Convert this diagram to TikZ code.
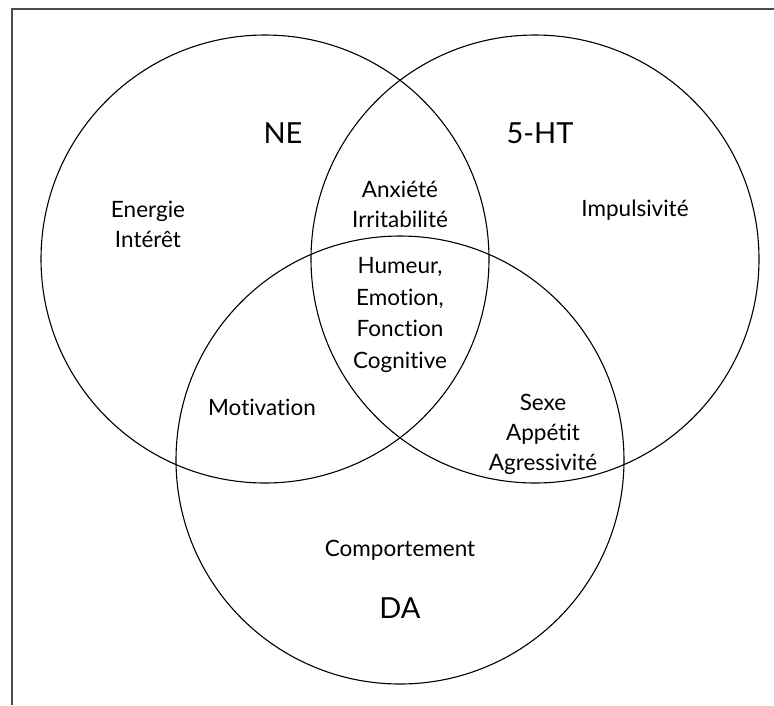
\documentclass[tikz,border=0pt]{standalone}
\usepackage{fontspec}
\setmainfont[Ligatures={NoCommon,NoRare,NoContextual}]{Lato}
\begin{document}
\begin{tikzpicture}[x=1pt,y=-1pt,
  ring/.style={draw=black,line width=1.1pt},
  frame/.style={draw=black!70,line width=2pt},
  lbl/.style={font=\fontsize{22.5}{30}\selectfont,align=center,inner sep=0pt},
  big/.style={font=\fontsize{29}{30}\selectfont,inner sep=0pt}]
\useasboundingbox (0,0) rectangle (774,705);
\draw[frame] (12,705) -- (12,8.5) -- (774,8.5);
\draw[ring] (265,259) circle (224);
\draw[ring] (535,259) circle (224);
\draw[ring] (400,460) circle (224);
\node[big] (ne) at (283,133) {NE};
\node[big] (ht) at (540,133) {5-HT};
\node[big] (da) at (400,608) {DA};
\node[lbl] (en) at (148,224) {Energie\\Intérêt};
\node[lbl] (an) at (400,204) {Anxiété\\Irritabilité};
\node[lbl] (im) at (635,210) {Impulsivité};
\node[lbl,font=\fontsize{22.5}{31.5}\selectfont] (hu) at (400,315) {Humeur,\\Emotion,\\Fonction\\Cognitive};
\node[lbl] (mo) at (262,407) {Motivation};
\node[lbl] (se) at (543,434) {Sexe\\Appétit\\Agressivité};
\node[lbl] (co) at (400,550) {Comportement};
\end{tikzpicture}
\end{document}
